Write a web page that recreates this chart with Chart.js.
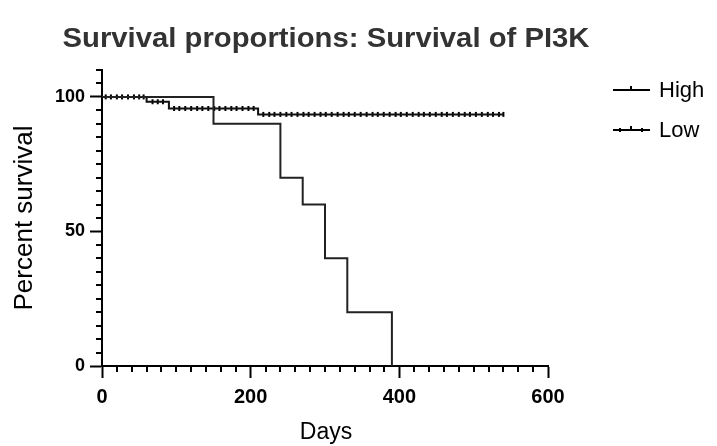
<!DOCTYPE html>
<html>
<head>
<meta charset="utf-8">
<title>Survival proportions: Survival of PI3K</title>
<script src="https://cdn.jsdelivr.net/npm/chart.js@4.4.1/dist/chart.umd.min.js"></script>
<style>
    html, body { margin: 0; padding: 0; background: #fff; }
    canvas { display: block; }
</style>
</head>
<body>
<canvas id="survivalChart" width="717" height="446"></canvas>
<script>
// Kaplan-Meier steps (day, percent survival)
const highDays = [0, 150, 240, 270, 300, 330, 390];
const highSurvival = [100, 90, 70, 60, 40, 20, 0];

const lowDays = [0, 60, 90, 210, 540];
const lowSurvival = [100, 98.2, 95.7, 93.5, 93.5];

// censored subjects in the Low group (the little ticks along the line)
const lowCensored = [5, 12, 20, 27, 35, 43, 50, 56, 68, 75, 82, 97, 104, 112, 120, 128, 135, 143,
    151, 158, 166, 174, 181, 189, 197, 204, 217, 225, 232, 240, 248, 255, 263, 271, 278, 286,
    294, 301, 309, 317, 325, 332, 340, 348, 356, 364, 371, 379, 387, 395, 402, 410, 418, 426,
    433, 441, 449, 457, 464, 472, 480, 488, 495, 503, 511, 519, 526, 534, 540];

const seriesNames = ['High', 'Low'];
const xTicks = [0, 200, 400, 600];
const yTicks = [0, 50, 100];

const FONT = '"Liberation Sans", Arial, sans-serif';

function toPoints(days, values) {
    return days.map((d, i) => ({ x: d, y: values[i] }));
}

// survival level at a given day for a step curve
function levelAt(days, values, day) {
    let v = values[0];
    for (let i = 0; i < days.length; i++) {
        if (days[i] <= day) v = values[i];
    }
    return v;
}

const censorPoints = lowCensored.map(d => ({ x: d, y: levelAt(lowDays, lowSurvival, d) }));

const extrasPlugin = {
    id: 'extras',
    afterDraw(chart) {
        const ctx = chart.ctx;
        const xs = chart.scales.x;
        const ys = chart.scales.y;
        const area = chart.chartArea;

        ctx.save();
        ctx.strokeStyle = '#000';
        ctx.lineWidth = 2;

        // minor ticks
        ctx.beginPath();
        for (let d = 20; d < 600; d += 20) {
            if (d % 200 === 0) continue;
            const px = Math.round(xs.getPixelForValue(d));
            ctx.moveTo(px, area.bottom);
            ctx.lineTo(px, area.bottom + 6);
        }
        for (let p = 5; p <= 110; p += 5) {
            if (p % 50 === 0) continue;
            const py = Math.round(ys.getPixelForValue(p));
            ctx.moveTo(area.left - 6, py);
            ctx.lineTo(area.left, py);
        }
        ctx.stroke();

        // title, squeezed to the width it has in the picture
        const title = 'Survival proportions: Survival of PI3K';
        ctx.fillStyle = '#333';
        ctx.font = 'bold 28px ' + FONT;
        ctx.textAlign = 'center';
        ctx.textBaseline = 'middle';
        const tw = ctx.measureText(title).width;
        ctx.save();
        ctx.translate(326, 39);
        ctx.scale(527 / tw, 1);
        ctx.fillText(title, 0, 0);
        ctx.restore();

        // axis titles
        ctx.fillStyle = '#000';
        ctx.font = '23px ' + FONT;
        ctx.fillText('Days', 326, 433);
        ctx.save();
        ctx.translate(25, 218);
        ctx.rotate(-Math.PI / 2);
        ctx.font = '26px ' + FONT;
        ctx.fillText('Percent survival', 0, 0);
        ctx.restore();

        // legend
        ctx.textAlign = 'left';
        ctx.font = '22px ' + FONT;
        const legendY = [90, 130];
        seriesNames.forEach((name, i) => {
            const y = legendY[i];
            ctx.strokeStyle = '#000';
            ctx.lineWidth = 2;
            ctx.beginPath();
            ctx.moveTo(613, y);
            ctx.lineTo(650, y);
            ctx.moveTo(631, y - 4);
            ctx.lineTo(631, y);
            if (i === 1) {
                ctx.moveTo(620, y - 2);
                ctx.lineTo(620, y + 2);
                ctx.moveTo(642, y - 2);
                ctx.lineTo(642, y + 2);
            }
            ctx.stroke();
            ctx.fillText(name, 659, y + 1);
        });
        ctx.restore();
    }
};

const ctx = document.getElementById('survivalChart').getContext('2d');
const survivalChart = new Chart(ctx, {
    type: 'line',
    data: {
        datasets: [
            {
                label: seriesNames[0],
                data: toPoints(highDays, highSurvival),
                borderColor: '#222',
                borderWidth: 2,
                stepped: 'before',
                pointRadius: 0,
                fill: false,
                clip: false
            },
            {
                label: seriesNames[1],
                data: toPoints(lowDays, lowSurvival),
                borderColor: '#111',
                borderWidth: 2,
                stepped: 'before',
                pointRadius: 0,
                fill: false,
                clip: false
            },
            {
                label: 'Low censored',
                data: censorPoints,
                showLine: false,
                pointStyle: 'line',
                rotation: 90,
                pointRadius: 2.5,
                pointBorderWidth: 2,
                pointBorderColor: '#000',
                clip: false
            }
        ]
    },
    options: {
        responsive: false,
        animation: false,
        layout: { padding: { top: 70, right: 169, left: 0, bottom: 0 } },
        plugins: {
            legend: { display: false },
            title: { display: false },
            tooltip: { enabled: false }
        },
        scales: {
            x: {
                type: 'linear',
                min: 0,
                max: 600,
                afterBuildTicks: scale => { scale.ticks = xTicks.map(v => ({ value: v })); },
                afterFit: scale => { scale.height = 80; },
                grid: { drawOnChartArea: false, drawTicks: true, tickLength: 12, tickWidth: 2, tickColor: '#000' },
                border: { display: true, color: '#000', width: 2 },
                ticks: { color: '#000', padding: 7, font: { family: FONT, size: 20, weight: 'bold' } }
            },
            y: {
                type: 'linear',
                min: 0,
                max: 110,
                afterBuildTicks: scale => { scale.ticks = yTicks.map(v => ({ value: v })); },
                afterFit: scale => { scale.width = 102; },
                grid: { drawOnChartArea: false, drawTicks: true, tickLength: 12, tickWidth: 2, tickColor: '#000' },
                border: { display: true, color: '#000', width: 2 },
                ticks: { color: '#000', padding: 5, font: { family: FONT, size: 18, weight: 'bold' } }
            }
        }
    },
    plugins: [extrasPlugin]
});
</script>
</body>
</html>
